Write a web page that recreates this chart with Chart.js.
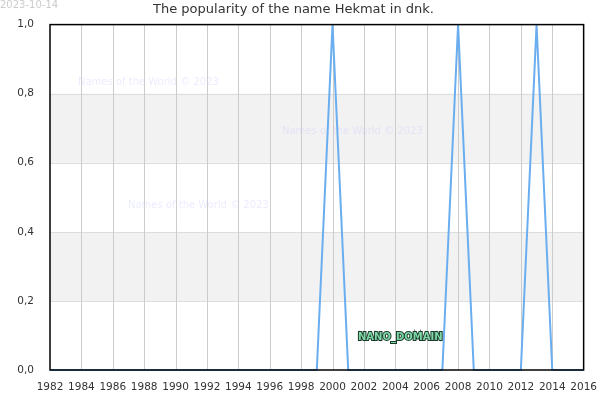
<!DOCTYPE html>
<html><head><meta charset="utf-8">
<script src="https://cdn.jsdelivr.net/npm/chart.js"></script>
<style>body{margin:0;background:#fff}#w{position:relative;width:600px;height:400px}</style>
</head><body><div id="w"><canvas id="c" width="600" height="400"></canvas></div>
<script>
const years=[];for(let y=1982;y<=2016;y++)years.push(y);
const peakYears=[2000,2008,2013];
const values=years.map(y=>peakYears.includes(y)?1:0);
const yTicks=[0,0.2,0.4,0.6,0.8,1.0];
const FONT='DejaVu Sans';
const deco={id:'deco',
 beforeDatasetsDraw(ch){const c=ch.ctx,a=ch.chartArea,y=ch.scales.y;
  c.save();c.fillStyle='#f2f2f2';
  [[0.2,0.4],[0.6,0.8]].forEach(([lo,hi])=>{const t=y.getPixelForValue(hi),b=y.getPixelForValue(lo);c.fillRect(a.left,t,a.right-a.left,b-t);});
  c.strokeStyle='#dddddd';c.lineWidth=1;
  [0.2,0.4,0.6,0.8].forEach(v=>{const p=Math.round(y.getPixelForValue(v))+0.5;c.beginPath();c.moveTo(a.left,p);c.lineTo(a.right,p);c.stroke();});
  c.strokeStyle='#cccccc';
  const x=ch.scales.x;for(let yr=1984;yr<2016;yr+=2){const p=Math.round(x.getPixelForValue(yr))+0.5;c.beginPath();c.moveTo(p,a.top);c.lineTo(p,a.bottom);c.stroke();}
  c.font='10px '+FONT;c.fillStyle='rgba(200,200,255,0.35)';
  c.fillText('Names of the World © 2023',78,85);c.fillText('Names of the World © 2023',282,134);c.fillText('Names of the World © 2023',128,208);
  c.restore();},
 afterDatasetsDraw(ch){const c=ch.ctx,a=ch.chartArea;c.save();
  c.strokeStyle='#000';c.lineWidth=1.5;c.strokeRect(a.left,a.top,a.right-a.left,a.bottom-a.top);
  c.font='bold 10px '+FONT;c.lineWidth=2;c.strokeStyle='#1a3a2a';c.strokeText('NANO_DOMAIN',358,340);c.fillStyle='#7fd6a6';c.fillText('NANO_DOMAIN',358,340);
  c.font='10px '+FONT;c.fillStyle='#cccccc';c.fillText('2023-10-14',0,8);
  c.restore();}};
new Chart(document.getElementById('c'),{type:'line',
 data:{datasets:[{data:years.map((y,i)=>({x:y,y:values[i]})),borderColor:'#6aaef0',borderWidth:2,pointRadius:0,tension:0,fill:false,clip:false}]},
 options:{responsive:false,animation:false,
  layout:{padding:{left:0,right:13,top:0,bottom:0}},
  plugins:{legend:{display:false},tooltip:{enabled:false},
   title:{display:true,text:'The popularity of the name Hekmat in dnk.',color:'#333',font:{family:FONT,size:13,weight:'normal'},padding:{top:2,bottom:7}}},
  scales:{
   x:{type:'linear',min:1982,max:2016,grid:{display:false},border:{display:false},afterFit:s=>{s.height=30;},
    ticks:{stepSize:2,color:'#333',font:{family:FONT,size:10.5},callback:v=>String(v),maxRotation:0,autoSkip:false}},
   y:{min:0,max:1,grid:{display:false},border:{display:false},afterFit:s=>{s.width=50;},afterBuildTicks:s=>{s.ticks=yTicks.map(v=>({value:v}));},
    ticks:{color:'#333',font:{family:FONT,size:10.5},callback:v=>v.toFixed(1).replace('.',','),padding:8}}}},
 plugins:[deco]});
</script></body></html>
